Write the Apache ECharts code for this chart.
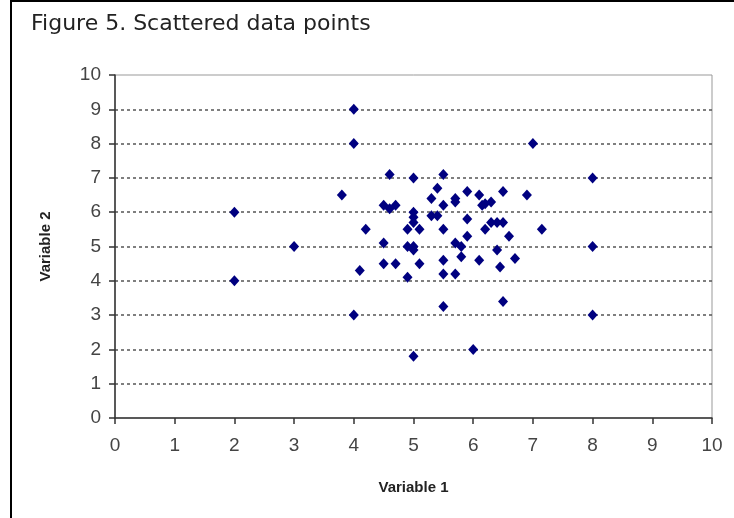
<!DOCTYPE html>
<html>
<head>
<meta charset="utf-8">
<script src="https://cdn.jsdelivr.net/npm/echarts@6/dist/echarts.min.js"></script>
<style>
html,body{margin:0;padding:0;background:#fff;}
#chart{width:734px;height:518px;}
</style>
</head>
<body>
<div id="chart"></div>
<script>
// Data
var titleText = 'Figure 5. Scattered data points';
var xName = 'Variable 1';
var yName = 'Variable 2';
var xTicks = [0,1,2,3,4,5,6,7,8,9,10];
var yTicks = [0,1,2,3,4,5,6,7,8,9,10];
var variable1 = [2,2,3,4,4,4,3.8,4.6,5.0,4.5,4.6,4.7,4.2,4.1,4.5,4.5,4.7,4.9,5.1,4.9,5.0,5.0,5.1,4.9,5.0,5.0,5.0,5.0,
  5.3,5.4,5.3,5.4,5.5,5.5,5.5,5.5,5.5,5.5,5.7,5.7,5.7,5.8,5.8,5.7,5.9,5.9,5.9,6.0,6.1,6.1,6.15,6.2,6.3,6.2,6.3,6.4,6.5,
  6.4,6.45,6.5,6.5,6.6,6.7,6.9,7.15,7,8,8,8];
var variable2 = [6,4,5,9,8,3,6.5,7.1,7.0,6.2,6.1,6.2,5.5,4.3,5.1,4.5,4.5,5.5,5.5,5.0,5.0,4.9,4.5,4.1,6.0,5.85,5.7,1.8,
  6.4,6.7,5.9,5.9,7.1,6.2,5.5,4.6,4.2,3.25,6.4,6.3,5.1,5.0,4.7,4.2,6.6,5.8,5.3,2.0,6.5,4.6,6.2,6.25,6.3,5.5,5.7,5.7,5.7,
  4.9,4.4,6.6,3.4,5.3,4.65,6.5,5.5,8,7,5,3];

var points = variable1.map(function(v, i){ return [v, variable2[i]]; });

var chart = echarts.init(document.getElementById('chart'), null, {renderer:'canvas'});
chart.setOption({
  animation: false,
  backgroundColor: '#ffffff',
  title: {
    text: titleText,
    left: 26, top: 8,
    textStyle: {fontFamily: 'DejaVu Sans', fontSize: 22, fontWeight: 'normal', color: '#222'}
  },
  graphic: [
    {type:'rect', shape:{x:10, y:0, width:2, height:518}, style:{fill:'#000'}},
    {type:'rect', shape:{x:10, y:0, width:724, height:2}, style:{fill:'#000'}}
  ],
  grid: {left: 115, right: 22, top: 75, bottom: 100, show: true, borderColor: '#999', borderWidth: 1},
  xAxis: {
    type: 'value', min: 0, max: 10, interval: 1,
    name: xName, nameLocation: 'middle', nameGap: 62,
    nameTextStyle: {fontFamily: 'Liberation Sans', fontSize: 15, fontWeight: 'bold', color: '#222'},
    axisLine: {show: true, onZero: false, lineStyle: {color: '#333', width: 1.5}},
    axisTick: {show: true, length: 6, lineStyle: {color: '#333', width: 1.5}},
    axisLabel: {margin: 18, fontFamily: 'Liberation Sans', fontSize: 19, color: '#444',
      formatter: function(v){ return xTicks.indexOf(v) >= 0 ? String(v) : ''; }},
    splitLine: {show: false}
  },
  yAxis: {
    type: 'value', min: 0, max: 10, interval: 1,
    name: yName, nameLocation: 'middle', nameGap: 62, nameRotate: 90,
    nameTextStyle: {fontFamily: 'Liberation Sans', fontSize: 15, fontWeight: 'bold', color: '#222'},
    axisLine: {show: true, onZero: false, lineStyle: {color: '#333', width: 1.5}},
    axisTick: {show: true, length: 6, lineStyle: {color: '#333', width: 1.5}},
    axisLabel: {margin: 14, fontFamily: 'Liberation Sans', fontSize: 19, color: '#444',
      formatter: function(v){ return yTicks.indexOf(v) >= 0 ? String(v) : ''; }},
    splitLine: {show: true, showMinLine: false, showMaxLine: false,
      lineStyle: {color: '#555', width: 1.5, type: [3, 3]}}
  },
  series: [{
    type: 'scatter',
    data: points,
    symbol: 'diamond',
    symbolSize: [10, 11],
    itemStyle: {color: '#000080', opacity: 1}
  }]
});
</script>
</body>
</html>
